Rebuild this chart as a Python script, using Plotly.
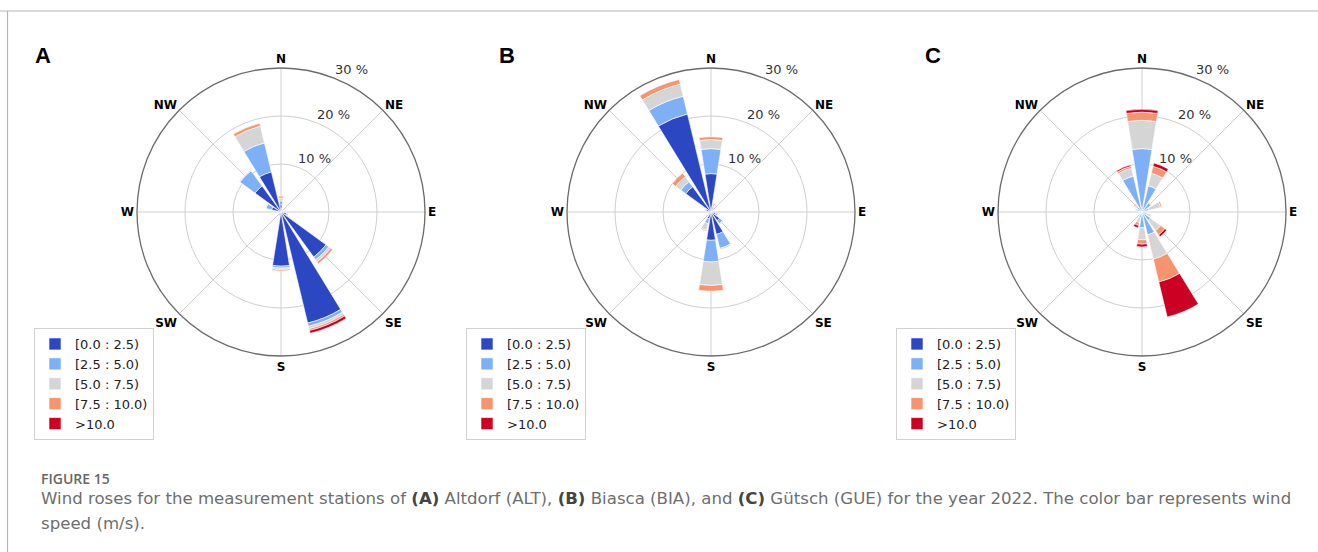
import math
import plotly.graph_objects as go

directions = ["N", "NNE", "NE", "ENE", "E", "ESE", "SE", "SSE",
              "S", "SSW", "SW", "WSW", "W", "WNW", "NW", "NNW"]
theta_deg = [0, 22.5, 45, 67.5, 90, 112.5, 135, 157.5,
             180, 202.5, 225, 247.5, 270, 292.5, 315, 337.5]

speed_bins = ["[0.0 : 2.5)", "[2.5 : 5.0)", "[5.0 : 7.5)", "[7.5 : 10.0)", ">10.0"]
bin_colors = ["#2b47c2", "#7eb0f7", "#d5d5d5", "#f7946f", "#cc0022"]

# frequency (%) per direction for each speed bin
alt_0_25 = [1.5, 0.4, 0.3, 0.3, 0.5, 1.2, 11.6, 23.8, 11.3, 0.8, 0.4, 0.4, 0.6, 2.0, 6.7, 8.6]
alt_25_5 = [0.8, 0.2, 0.1, 0.1, 0.1, 0.3, 0.7, 0.7, 0.4, 0.1, 0.1, 0.1, 0.2, 1.2, 3.9, 6.2]
alt_5_75 = [0.6, 0.0, 0.0, 0.0, 0.0, 0.0, 0.5, 0.5, 0.3, 0.0, 0.0, 0.0, 0.0, 0.2, 0.2, 3.6]
alt_75_10 = [0.4, 0.0, 0.0, 0.0, 0.0, 0.0, 0.5, 0.4, 0.3, 0.0, 0.0, 0.0, 0.0, 0.0, 0.0, 0.6]
alt_10p = [0.0, 0.0, 0.0, 0.0, 0.0, 0.0, 0.0, 0.6, 0.0, 0.0, 0.0, 0.0, 0.0, 0.0, 0.0, 0.0]

bia_0_25 = [8.0, 0.5, 0.3, 0.3, 0.4, 1.0, 2.2, 4.8, 5.9, 1.5, 0.5, 0.4, 0.5, 1.0, 6.5, 21.0]
bia_25_5 = [5.2, 0.6, 0.2, 0.1, 0.1, 0.4, 0.8, 3.0, 4.5, 1.0, 0.2, 0.1, 0.2, 0.3, 1.3, 3.8]
bia_5_75 = [1.9, 0.5, 0.0, 0.0, 0.0, 0.0, 0.2, 0.3, 4.9, 1.4, 0.1, 0.0, 0.0, 0.1, 1.3, 2.6]
bia_75_10 = [0.6, 0.3, 0.0, 0.0, 0.0, 0.0, 0.0, 0.0, 1.2, 0.2, 0.0, 0.0, 0.0, 0.0, 0.9, 1.0]
bia_10p = [0.0, 0.0, 0.0, 0.0, 0.0, 0.0, 0.0, 0.0, 0.0, 0.0, 0.0, 0.0, 0.0, 0.0, 0.0, 0.0]

gue_0_25 = [1.0, 0.5, 0.5, 0.3, 0.3, 0.3, 0.4, 0.5, 0.3, 0.3, 0.2, 0.2, 0.2, 0.3, 0.4, 0.5]
gue_25_5 = [12.2, 5.1, 1.8, 1.2, 0.5, 0.8, 1.8, 4.4, 3.0, 1.0, 0.3, 0.3, 0.3, 0.8, 0.8, 7.2]
gue_5_75 = [5.9, 2.7, 0.3, 2.5, 0.5, 0.8, 2.6, 5.2, 2.5, 1.0, 0.2, 0.2, 0.2, 0.4, 0.6, 1.7]
gue_75_10 = [1.7, 1.5, 0.0, 0.3, 0.0, 0.1, 1.1, 4.9, 0.9, 0.6, 0.0, 0.0, 0.0, 0.0, 0.2, 0.4]
gue_10p = [0.6, 0.7, 0.0, 0.0, 0.0, 0.0, 0.5, 7.5, 0.6, 0.5, 0.0, 0.0, 0.0, 0.0, 0.1, 0.3]

stations = [
    ("polar", "legend", [alt_0_25, alt_25_5, alt_5_75, alt_75_10, alt_10p]),
    ("polar2", "legend2", [bia_0_25, bia_25_5, bia_5_75, bia_75_10, bia_10p]),
    ("polar3", "legend3", [gue_0_25, gue_25_5, gue_5_75, gue_75_10, gue_10p]),
]
panel_letters = ["A", "B", "C"]

compass_vals = [0, 45, 90, 135, 180, 225, 270, 315]
compass_text = ["N", "NE", "E", "SE", "S", "SW", "W", "NW"]
r_ticks = [10, 20, 30]
r_max = 30

W, H = 1318, 552
centers_x = [281, 711, 1142]
center_y = 212
R = 144

fig = go.Figure()
for (pol, leg, series) in stations:
    for name, color, vals in zip(speed_bins, bin_colors, series):
        fig.add_trace(go.Barpolar(
            r=vals, theta=theta_deg, name=name, subplot=pol, legend=leg,
            width=18, marker=dict(color=color, line=dict(color="white", width=0.6)),
        ))

layout = dict(width=W, height=H, margin=dict(l=0, r=0, t=0, b=0),
              paper_bgcolor="white", plot_bgcolor="white", showlegend=True)

for i, (pol, leg, _) in enumerate(stations):
    cx = centers_x[i]
    layout[pol] = dict(
        domain=dict(x=[(cx - R) / W, (cx + R) / W],
                    y=[(H - (center_y + R)) / H, (H - (center_y - R)) / H]),
        bgcolor="white", barmode="stack",
        angularaxis=dict(rotation=90, direction="clockwise",
                         tickmode="array", tickvals=compass_vals, ticktext=compass_text,
                         tickfont=dict(family="DejaVu Sans", size=12, color="black", weight="bold"),
                         ticks="", showline=True, linecolor="#6b6b6b", linewidth=1.3,
                         showgrid=True, gridcolor="#cfcfcf", gridwidth=1),
        radialaxis=dict(range=[0, r_max], tickmode="array", tickvals=r_ticks,
                        angle=67.5, showticklabels=False,
                        showline=False, ticks="", showgrid=True, gridcolor="#cfcfcf",
                        gridwidth=1),
    )
    lx = [34, 466, 896][i]
    layout[leg] = dict(x=lx / W, y=(H - 328) / H, xanchor="left", yanchor="top",
                       bgcolor="white", bordercolor="#d0d0d0", borderwidth=1,
                       traceorder="normal",
                       font=dict(family="DejaVu Sans", size=13, color="#222222"))

fig.update_layout(**layout)

annotations = []
# radial tick labels (horizontal, at 22.5 deg east of north, like matplotlib)
ang = math.radians(22.5)
for i in range(3):
    cx = centers_x[i]
    for rv in r_ticks:
        px = cx + rv * (R / r_max) * math.sin(ang) - 3
        py = center_y - rv * (R / r_max) * math.cos(ang) - 9
        annotations.append(dict(x=px / W, y=(H - py) / H, xref="paper", yref="paper",
                                text="%d %%" % rv, showarrow=False, xanchor="left",
                                yanchor="middle",
                                font=dict(family="DejaVu Sans", size=13, color="#333333")))

for i, letter in enumerate(panel_letters):
    annotations.append(dict(x=[43, 507, 933][i] / W, y=(H - 55) / H, xref="paper", yref="paper",
                            text="<b>%s</b>" % letter, showarrow=False, xanchor="center",
                            yanchor="middle",
                            font=dict(family="Liberation Sans", size=22, color="black")))

annotations.append(dict(x=39 / W, y=(H - 478) / H, xref="paper", yref="paper",
                        text="FIGURE 15", showarrow=False, xanchor="left", yanchor="middle",
                        font=dict(family="Open Sans", size=14, color="#666666", weight=600)))


def bold(s):
    return "<b><span style='color:#444444'>%s</span></b>" % s


line1 = ("Wind roses for the measurement stations of " + bold("(A)") + " Altdorf (ALT), "
         + bold("(B)") + " Biasca (BIA), and " + bold("(C)") + " Gütsch (GUE) for the year 2022. "
         "The color bar represents wind")
annotations.append(dict(x=39 / W, y=(H - 498) / H, xref="paper", yref="paper",
                        text=line1, showarrow=False, xanchor="left", yanchor="middle",
                        font=dict(family="DejaVu Sans", size=16.6, color="#6e6e6e")))
annotations.append(dict(x=39 / W, y=(H - 523) / H, xref="paper", yref="paper",
                        text="speed (m/s).", showarrow=False, xanchor="left", yanchor="middle",
                        font=dict(family="DejaVu Sans", size=16.6, color="#6e6e6e")))

shapes = [
    dict(type="line", xref="paper", yref="paper", x0=0, x1=1, y0=(H - 11) / H, y1=(H - 11) / H,
         line=dict(color="#b5b5b5", width=1.2)),
    dict(type="line", xref="paper", yref="paper", x0=7.5 / W, x1=7.5 / W, y0=0, y1=(H - 11) / H,
         line=dict(color="#b5b5b5", width=1.2)),
]
fig.update_layout(annotations=annotations, shapes=shapes)

fig.write_html("out.html", config={"responsive": False, "displayModeBar": False})
